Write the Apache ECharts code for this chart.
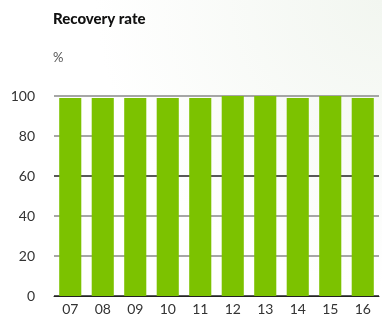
<!DOCTYPE html>
<html>
<head>
<meta charset="utf-8">
<script src="https://cdn.jsdelivr.net/npm/echarts@6/dist/echarts.min.js"></script>
<style>
  html, body { margin: 0; padding: 0; background: #fff; }
  #chart { width: 382px; height: 318px; }
</style>
</head>
<body>
<div id="chart"></div>
<script>
const years = ['07', '08', '09', '10', '11', '12', '13', '14', '15', '16']
const recoveryRate = [99, 99, 99, 99, 99, 100, 100, 99, 100, 99]

const chart = echarts.init(document.getElementById('chart'))
chart.setOption({
  // faint tint in the top right corner
  backgroundColor: {
    type: 'radial', x: 1, y: 0, r: 0.9,
    colorStops: [
      { offset: 0, color: '#f2f6f0' },
      { offset: 1, color: '#ffffff' }
    ]
  },
  textStyle: { fontFamily: 'Lato' },
  title: {
    text: 'Recovery rate',
    left: 53,
    top: 12,
    padding: 0,
    textStyle: { fontSize: 15, fontWeight: 900, color: '#111', fontFamily: 'Lato' }
  },
  graphic: [
    {
      type: 'text', left: 53, top: 51,
      style: { text: '%', fontSize: 13, fill: '#555', fontFamily: 'Lato' }
    }
  ],
  grid: { left: 54, right: 3, top: 96, bottom: 22 },
  xAxis: {
    type: 'category',
    data: years,
    axisLine: { show: true, lineStyle: { color: '#222', width: 1 } },
    axisTick: { show: false },
    axisLabel: { color: '#333', fontSize: 14, margin: 6 }
  },
  yAxis: {
    type: 'value',
    min: 0,
    max: 100,
    interval: 20,
    axisLine: { show: false },
    axisTick: { show: false },
    axisLabel: { color: '#333', fontSize: 14, margin: 19 },
    splitLine: {
      lineStyle: { color: ['#222', '#888', '#888', '#222', '#888', '#888'], width: 1.5 }
    }
  },
  series: [
    {
      type: 'bar',
      data: recoveryRate,
      barCategoryGap: '32%',
      itemStyle: { color: '#7cc200' }
    }
  ]
})
</script>
</body>
</html>
